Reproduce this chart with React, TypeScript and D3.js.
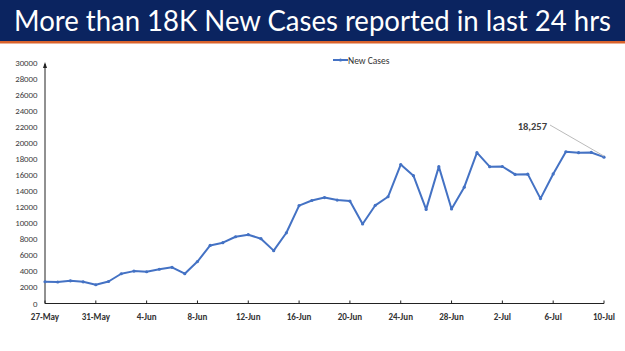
import React from "react";
import * as d3 from "d3";

const startDate = new Date(2022, 4, 27);
const newCases: number[] = [
  2710, 2685, 2828, 2706, 2338, 2745, 3712, 4041, 3962, 4270, 4518, 3714, 5233, 7240, 7584,
  8329, 8582, 8084, 6594, 8822, 12213, 12847, 13216, 12899, 12781, 9923, 12249, 13313, 17336,
  15940, 11739, 17073, 11793, 14506, 18819, 17070, 17092, 16103, 16135, 13086, 16159, 18930,
  18815, 18840, 18257,
];
const yTicks: number[] = d3.range(0, 30001, 2000);
const xTickLabels: string[] = [
  "27-May", "31-May", "4-Jun", "8-Jun", "12-Jun", "16-Jun", "20-Jun", "24-Jun", "28-Jun", "2-Jul", "6-Jul", "10-Jul",
];
const title = "More than 18K New Cases reported in last 24 hrs";
const seriesName = "New Cases";
const annotationText = "18,257";

export default function App() {
  const W = 625, H = 351;
  const dates = newCases.map((_, i) => d3.timeDay.offset(startDate, i));
  const x = d3.scaleTime().domain([dates[0], dates[dates.length - 1]]).range([45, 604]);
  const y = d3.scaleLinear().domain([0, 30000]).range([303.5, 63]);
  const line = d3.line<number>().x((_, i) => x(dates[i])).y((d) => y(d));
  const tickDates = xTickLabels.map((_, i) => d3.timeDay.offset(startDate, i * 4));
  const last = newCases.length - 1;
  const lx = x(dates[last]);
  const ly = y(newCases[last]);
  const blue = "#4472C4";
  const font = "Calibri, Carlito, 'Liberation Sans', sans-serif";
  return (
    <div style={{ position: "absolute", left: 0, top: 0 }}>
      <svg width={W} height={H} style={{ display: "block", background: "#fff" }}>
        <rect x={0} y={0} width={W} height={41} fill="#0B2460" />
        <rect x={0} y={41} width={W} height={2.5} fill="#D9622B" />
        <text x={14} y={31} fill="#fff" fontFamily="Lato, 'Open Sans', sans-serif" fontSize={28}
          textLength={597} lengthAdjust="spacingAndGlyphs">{title}</text>

        {/* y axis */}
        <line x1={45} x2={45} y1={y(0)} y2={64} stroke="#222" strokeWidth={1} />
        <path d={`M${45 - 2},${68} L45,${62} L${45 + 2},${68} Z`} fill="#222" />
        {yTicks.map((t) => (
          <text key={t} x={37.5} y={y(t) + 3} textAnchor="end" fontSize={8.8}
            fontFamily={font} fill="#404040">{t}</text>
        ))}

        {/* x axis */}
        <line x1={45} x2={604} y1={y(0)} y2={y(0)} stroke="#222" strokeWidth={1} />
        {tickDates.map((d, i) => (
          <g key={i}>
            <line x1={x(d)} x2={x(d)} y1={y(0)} y2={y(0) - 3} stroke="#222" strokeWidth={1} />
            <text x={x(d)} y={320} textAnchor="middle" fontSize={9} fontWeight="bold"
              fontFamily={font} fill="#333">{xTickLabels[i]}</text>
          </g>
        ))}

        {/* series */}
        <path d={line(newCases) || ""} fill="none" stroke={blue} strokeWidth={2} strokeLinejoin="round" />
        {newCases.map((v, i) => (
          <circle key={i} cx={x(dates[i])} cy={y(v)} r={1.6} fill={blue} />
        ))}

        {/* annotation */}
        <line x1={550} y1={125} x2={lx} y2={ly - 1} stroke="#BBBBBB" strokeWidth={1} />
        <text x={547} y={129.5} textAnchor="end" fontSize={10.5} fontWeight="bold"
          fontFamily={font} fill="#404040">{annotationText}</text>

        {/* legend */}
        <line x1={333} x2={348} y1={60} y2={60} stroke={blue} strokeWidth={2} />
        <circle cx={340.5} cy={60} r={1.6} fill={blue} />
        <text x={348} y={63.5} fontSize={9.5}
          fontFamily={font} fill="#333">{seriesName}</text>
      </svg>
    </div>
  );
}
